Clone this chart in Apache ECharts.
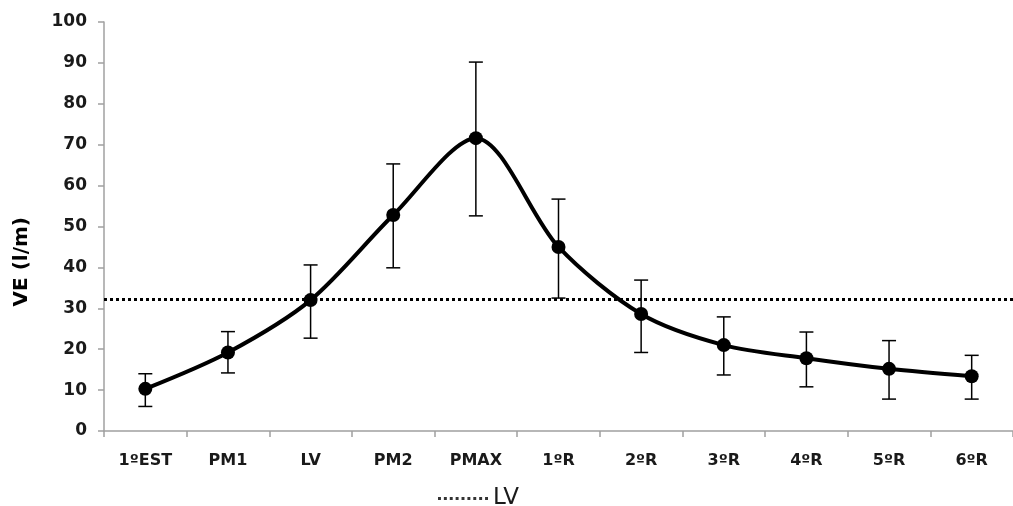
<!DOCTYPE html>
<html>
<head>
<meta charset="utf-8">
<script src="https://cdn.jsdelivr.net/npm/echarts@6/dist/echarts.min.js"></script>
<style>html,body{margin:0;padding:0;background:#fff}#c{width:1013px;height:506px}</style>
</head>
<body>
<div id="c"></div>
<script>
var categories = ['1ºEST','PM1','LV','PM2','PMAX','1ºR','2ºR','3ºR','4ºR','5ºR','6ºR'];
var veMean = [10.3, 19.2, 32.0, 52.8, 71.6, 45.0, 28.6, 21.0, 17.8, 15.2, 13.4];
var errLow = [6.0, 14.2, 22.7, 39.9, 52.6, 32.5, 19.2, 13.7, 10.8, 7.8, 7.8];
var errHigh = [14.0, 24.3, 40.6, 65.3, 90.2, 56.7, 36.9, 27.9, 24.2, 22.1, 18.5];
var lvThreshold = 32.3;
var yTicks = {min: 0, max: 100, interval: 10};

var errData = categories.map(function (c, i) { return [i, errLow[i], errHigh[i]]; });
var dotPath = 'path://';
for (var k = 0; k < 9; k++) { dotPath += 'M' + (k * 6) + ',0h3v3h-3z'; }
var chart = echarts.init(document.getElementById('c'));
var fontFam = '"DejaVu Sans", sans-serif';
chart.setOption({
  animation: false,
  backgroundColor: '#fff',
  grid: {left: 104, right: 0, top: 22, bottom: 75, containLabel: false},
  legend: {
    data: [{name: 'LV', icon: dotPath}], top: 482, left: 433, itemWidth: 50, itemHeight: 3, itemGap: 6,
    textStyle: {fontSize: 23, fontFamily: fontFam, color: '#1a1a1a'}
  },
  xAxis: {
    type: 'category', data: categories, boundaryGap: true,
    axisLine: {lineStyle: {color: '#a0a0a0', width: 1.5}},
    axisTick: {show: true, inside: false, length: 6, lineStyle: {color: '#a0a0a0', width: 1.5}},
    axisLabel: {fontFamily: fontFam, fontWeight: 'bold', fontSize: 16, color: '#1a1a1a', margin: 22}
  },
  yAxis: {
    type: 'value', min: yTicks.min, max: yTicks.max, interval: yTicks.interval,
    splitLine: {show: false},
    axisLine: {show: true, lineStyle: {color: '#a0a0a0', width: 1.5}},
    axisTick: {show: true, inside: false, length: 6, lineStyle: {color: '#a0a0a0', width: 1.5}},
    axisLabel: {fontFamily: fontFam, fontWeight: 'bold', fontSize: 17, color: '#1a1a1a', margin: 17}
  },
  graphic: [{
    type: 'text', left: 12, top: 217, rotation: Math.PI / 2,
    style: {text: 'VE (l/m)', fontFamily: fontFam, fontWeight: 'bold', fontSize: 20, fill: '#000'}
  }],
  series: [
    {
      name: 'LV', type: 'scatter', data: [],
      itemStyle: {color: '#000'},
      markLine: {
        silent: true, symbol: 'none', label: {show: false},
        lineStyle: {color: '#000', width: 3, type: [3, 3]},
        data: [{yAxis: lvThreshold}]
      }
    },
    {
      name: 'err', type: 'custom', data: errData, z: 3,
      renderItem: function (params, api) {
        var x = api.value(0);
        var lo = api.coord([x, api.value(1)]);
        var hi = api.coord([x, api.value(2)]);
        var w = 7;
        var st = {stroke: '#000', lineWidth: 1.5};
        return {type: 'group', children: [
          {type: 'line', shape: {x1: lo[0], y1: lo[1], x2: hi[0], y2: hi[1]}, style: st},
          {type: 'line', shape: {x1: lo[0] - w, y1: lo[1], x2: lo[0] + w, y2: lo[1]}, style: st},
          {type: 'line', shape: {x1: hi[0] - w, y1: hi[1], x2: hi[0] + w, y2: hi[1]}, style: st}
        ]};
      }
    },
    {
      name: 'VE', type: 'line', data: veMean, smooth: 0.3, z: 4,
      symbol: 'circle', symbolSize: 14,
      lineStyle: {color: '#000', width: 4},
      itemStyle: {color: '#000'}
    }
  ]
});
</script>
</body>
</html>
